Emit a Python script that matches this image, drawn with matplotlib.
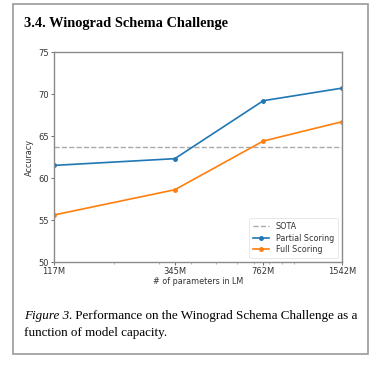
import matplotlib.pyplot as plt
import matplotlib.patches as patches
from matplotlib.ticker import FixedLocator, NullFormatter, LogLocator

params = [117, 345, 762, 1542]
param_labels = ['117M', '345M', '762M', '1542M']
partial_scoring = [61.5, 62.3, 69.2, 70.7]
full_scoring = [55.6, 58.6, 64.4, 66.7]
sota = 63.7

fig = plt.figure(figsize=(3.79, 3.66), dpi=100)

# outer gray frame
fig.patches.append(patches.Rectangle((13 / 379, 1 - 354 / 366), 355 / 379, 350 / 366,
                                     transform=fig.transFigure, fill=False,
                                     edgecolor='#9a9a9a', linewidth=1.2))

fig.text(24 / 379, 1 - 23 / 366, '3.4. Winograd Schema Challenge', family='Liberation Serif',
         fontweight='bold', fontsize=10.4, va='center', ha='left')

ax = fig.add_axes([54 / 379, 1 - 262 / 366, 288 / 379, 210 / 366])

ax.axhline(sota, color='#aaaaaa', linestyle='--', linewidth=1.0, label='SOTA')
ax.plot(params, partial_scoring, color='#1f77b4', marker='o', markersize=2.5,
        linewidth=1.2, label='Partial Scoring')
ax.plot(params, full_scoring, color='#ff7f0e', marker='o', markersize=2.5,
        linewidth=1.2, label='Full Scoring')

ax.set_xscale('log')
ax.set_xlim(params[0], params[-1])
ax.xaxis.set_major_locator(FixedLocator(params))
ax.set_xticklabels(param_labels)
ax.xaxis.set_minor_locator(LogLocator(subs='all'))
ax.xaxis.set_minor_formatter(NullFormatter())
ax.set_ylim(50, 75)
ax.set_yticks([50, 55, 60, 65, 70, 75])

ax.tick_params(axis='both', which='major', labelsize=6, length=2.5, width=0.6,
               pad=1, colors='#555555', labelcolor='#333333')
ax.tick_params(axis='x', which='minor', length=1.5, width=0.4, colors='#777777')
for s in ax.spines.values():
    s.set_color('#8a8a8a')
    s.set_linewidth(1.0)

ax.set_xlabel('# of parameters in LM', fontsize=5.8, color='#333333', labelpad=1)
ax.set_ylabel('Accuracy', fontsize=5.8, color='#333333', labelpad=3)

leg = ax.legend(loc='lower right', fontsize=5.8, frameon=True, borderpad=0.5,
                handlelength=2.0, labelspacing=0.3)
leg.get_frame().set_edgecolor('#dddddd')
leg.get_frame().set_linewidth(0.6)
for t in leg.get_texts():
    t.set_color('#333333')

# caption
cap_size = 9.45
fig_lbl = fig.text(24 / 379, 1 - 316 / 366, 'Figure 3.', fontsize=cap_size, va='center',
                   ha='left', family='Liberation Serif', style='italic')
renderer = fig.canvas.get_renderer()
bb = fig_lbl.get_window_extent(renderer)
fig.text(bb.x1 / fig.bbox.width, 1 - 316 / 366,
         ' Performance on the Winograd Schema Challenge as a',
         fontsize=cap_size, va='center', ha='left', family='Liberation Serif')
fig.text(24 / 379, 1 - 333 / 366, 'function of model capacity.', fontsize=cap_size,
         va='center', ha='left', family='Liberation Serif')

fig.savefig('out.png', dpi=100)
